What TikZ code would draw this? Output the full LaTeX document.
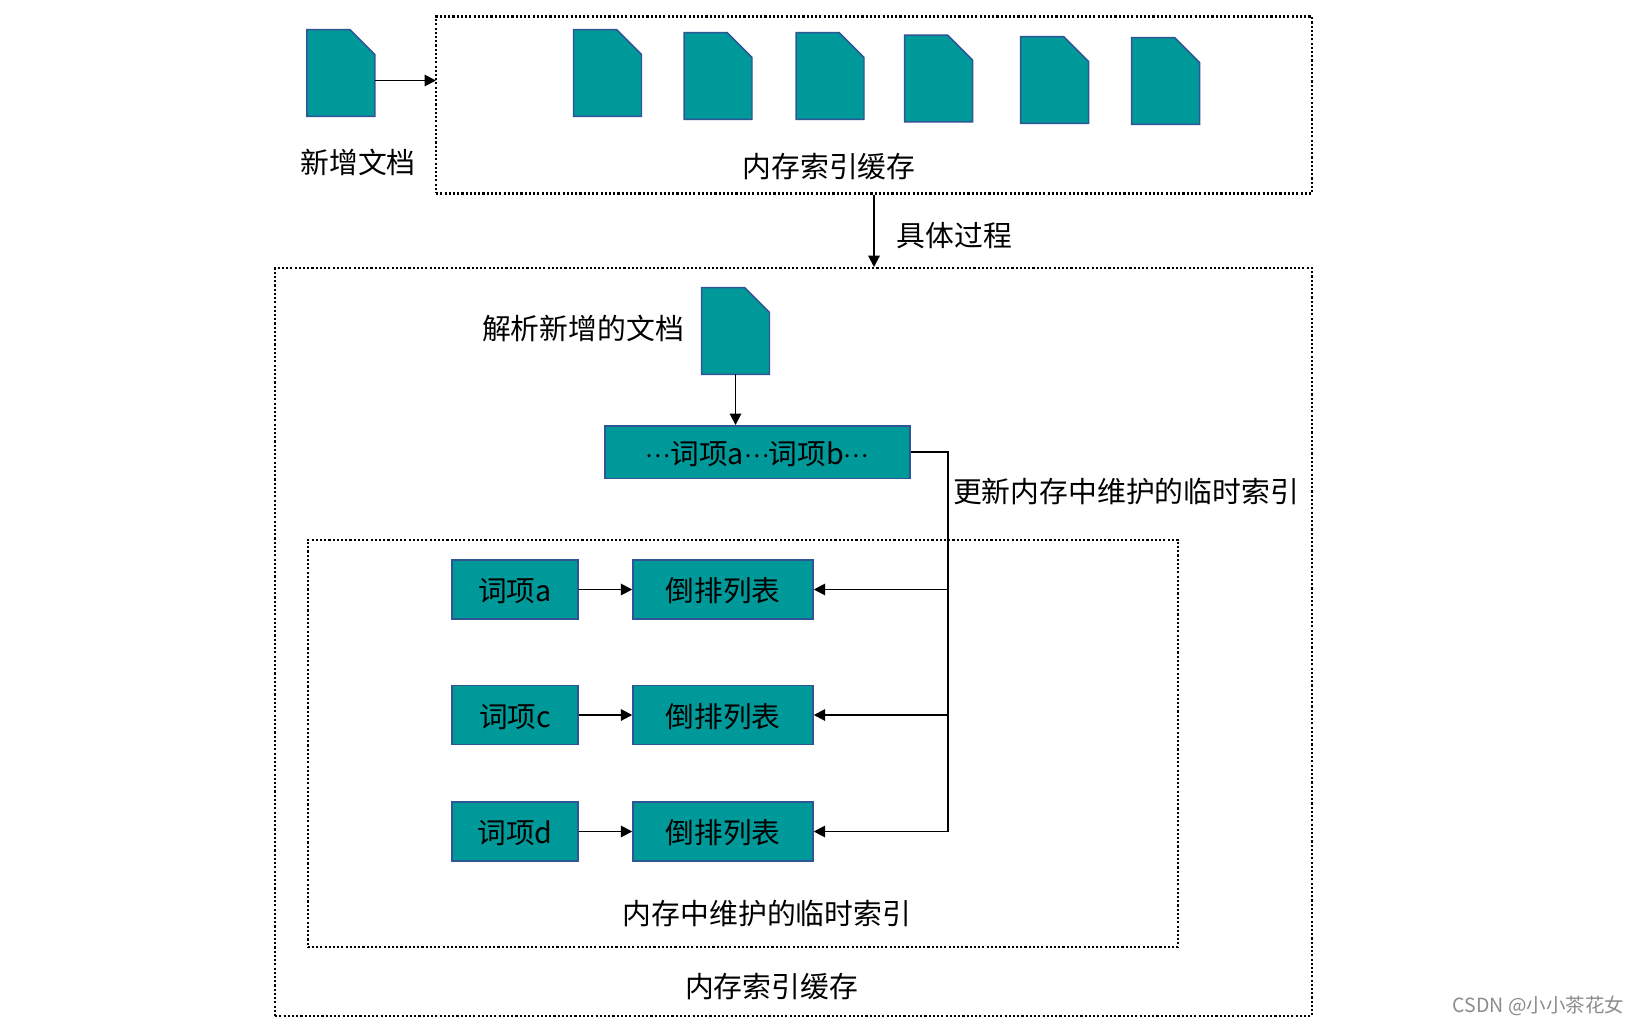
\documentclass[tikz,border=0pt]{standalone}
\usepackage{fontspec}
\setmainfont{Noto Sans CJK SC}
\usetikzlibrary{arrows.meta}
\newcommand{\middots}{\raisebox{4pt}{\fontsize{13.4}{14}\selectfont ⋯}}

\begin{document}
\begin{tikzpicture}[x=0.02cm,y=-0.02cm,
    docfile/.style={rectangle,outer sep=0pt,minimum width=1.36cm,minimum height=1.74cm,inner sep=0pt,
        append after command={\pgfextra{\filldraw[draw=boxblue,fill=boxteal,line width=0.85pt]
            (\tikzlastnode.north west) -- ([xshift=-0.5cm]\tikzlastnode.north east)
            -- ([yshift=-0.5cm]\tikzlastnode.north east) -- (\tikzlastnode.south east)
            -- (\tikzlastnode.south west) -- cycle;}}},
    tealbox/.style={rectangle,draw=boxblue,fill=boxteal,line width=0.85pt,inner sep=0pt,
        text height=16pt,text depth=2pt,font=\fontsize{16.3}{20}\selectfont},
    dotbox/.style={rectangle,draw,line width=1.2pt,dash pattern=on 1.2pt off 1.2pt,inner sep=0pt},
    caption/.style={inner sep=0pt,font=\fontsize{16.4}{20}\selectfont},
    link/.style={line width=1.1pt,-{Triangle[length=6.5pt,width=6.5pt]}}]
\definecolor{boxteal}{HTML}{009999}
\definecolor{boxblue}{HTML}{2F5597}

\useasboundingbox (0,0) rectangle (1640,1024);

% Dotted frames
\node[dotbox,minimum width=17.52cm,minimum height=3.54cm] (cache) at (874,105) {};
\node[dotbox,minimum width=20.74cm,minimum height=14.96cm] (process) at (793.5,642) {};
\node[dotbox,minimum width=17.41cm,minimum height=8.15cm] (tempindex) at (742.8,743.3) {};

% New document and cached documents
\node[docfile] (newdoc) at (340.8,73) {};
\node[docfile] (doca) at (607.5,73) {};
\node[docfile] (docb) at (718,76) {};
\node[docfile] (docc) at (830,76) {};
\node[docfile] (docd) at (938.5,78.5) {};
\node[docfile] (doce) at (1054.5,80) {};
\node[docfile] (docf) at (1165.5,81) {};
\node[docfile] (parsedoc) at (735.5,331) {};

% Term boxes
\node[tealbox,minimum width=6.1cm,minimum height=1.05cm] (terms) at (757.3,452) {\middots 词项a\middots 词项b\middots};
\node[tealbox,minimum width=2.53cm,minimum height=1.18cm] (terma) at (515,589.5) {词项a};
\node[tealbox,minimum width=2.53cm,minimum height=1.18cm] (termc) at (515,715) {词项c};
\node[tealbox,minimum width=2.53cm,minimum height=1.18cm] (termd) at (515,831.5) {词项d};

% Posting lists
\node[tealbox,minimum width=3.6cm,minimum height=1.18cm] (lista) at (723,589.5) {倒排列表};
\node[tealbox,minimum width=3.6cm,minimum height=1.18cm] (listc) at (723,715) {倒排列表};
\node[tealbox,minimum width=3.6cm,minimum height=1.18cm] (listd) at (723,831.5) {倒排列表};

% Captions
\node[caption] (newlabel) at (358,162.5) {新增文档};
\node[caption] (cachelabel) at (829,167) {内存索引缓存};
\node[caption] (steplabel) at (954.5,236) {具体过程};
\node[caption] (parselabel) at (583,328) {解析新增的文档};
\node[caption] (updatelabel) at (1126,492) {更新内存中维护的临时索引};
\node[caption] (templabel) at (767,913) {内存中维护的临时索引};
\node[caption] (processlabel) at (771.5,987) {内存索引缓存};
\node[inner sep=0pt,text=black!45,font=\fontsize{11.1}{13}\selectfont] (mark) at (1538.5,1006) {CSDN @小小茶花女};

\coordinate (entry) at (436,80.5);
\coordinate (turn) at (947.6,452);

% Arrows
\draw[link] (newdoc.east |- entry) -- (entry);
\draw[link] (cache.south) -- (cache.south |- process.north);
\draw[link] (parsedoc.south) -- (parsedoc.south |- terms.north);
\draw[link] (terma) -- (lista);
\draw[link] (termc) -- (listc);
\draw[link] (termd) -- (listd);
\draw[link] (terms.east) -- (turn) |- (listd.east);
\draw[link] (turn |- lista) -- (lista.east);
\draw[link] (turn |- listc) -- (listc.east);

\end{tikzpicture}
\end{document}
